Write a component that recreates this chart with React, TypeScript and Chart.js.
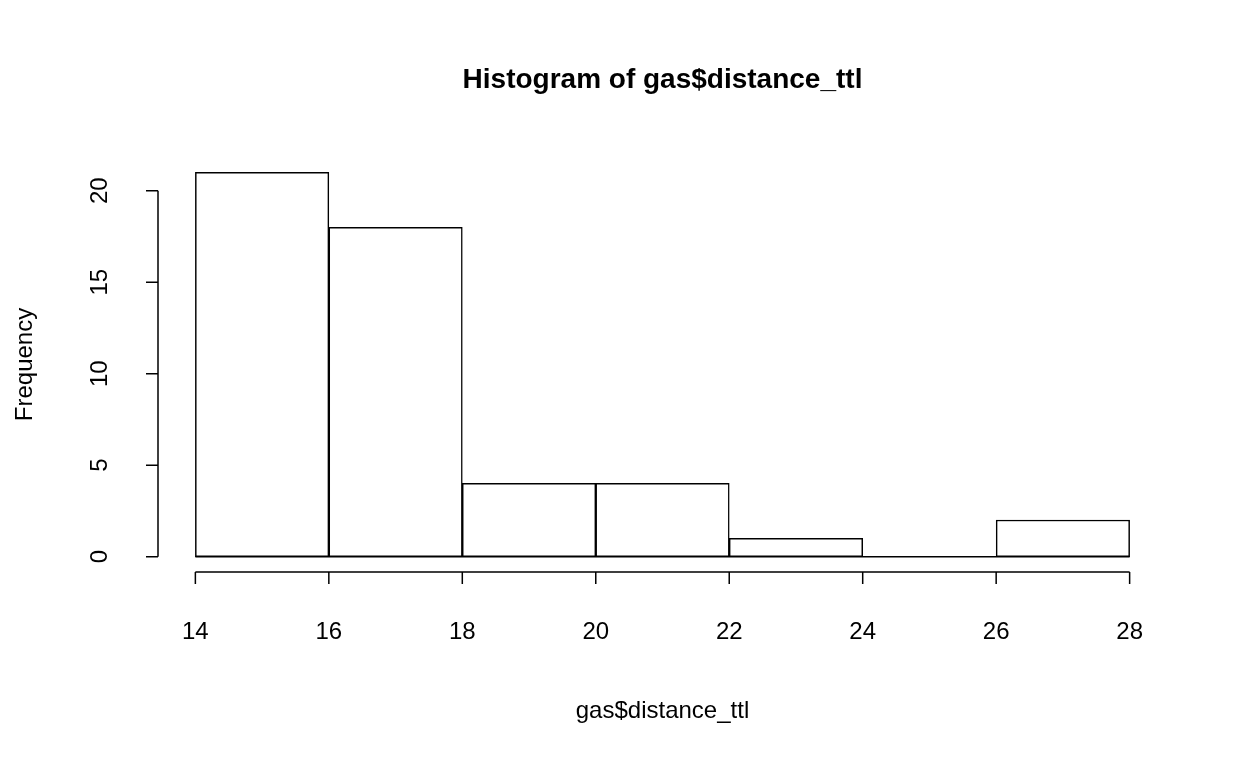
import { useEffect, useRef } from "react";
import { Chart, registerables } from "chart.js";

Chart.register(...registerables);

const binEdges = [14, 16, 18, 20, 22, 24, 26, 28];
const counts = [21, 18, 4, 4, 1, 0, 2];
const xTicks = [14, 16, 18, 20, 22, 24, 26, 28];
const yTicks = [0, 5, 10, 15, 20];

const FONT = "'Liberation Sans', Arial, Helvetica, sans-serif";

// R-style axes, titles and base line drawn from the chart's scales
const rAxes = {
  id: "rAxes",
  afterDraw(chart: any) {
    const { ctx, chartArea } = chart;
    const xs = chart.scales.x;
    const ys = chart.scales.y;
    ctx.save();
    ctx.strokeStyle = "#000";
    ctx.fillStyle = "#000";
    ctx.lineWidth = 1.5;

    // base line under all bins
    const y0 = ys.getPixelForValue(0);
    ctx.beginPath();
    ctx.moveTo(xs.getPixelForValue(binEdges[0]), y0);
    ctx.lineTo(xs.getPixelForValue(binEdges[binEdges.length - 1]), y0);
    ctx.stroke();

    // x axis
    const ax = chartArea.bottom;
    ctx.beginPath();
    ctx.moveTo(xs.getPixelForValue(xTicks[0]), ax);
    ctx.lineTo(xs.getPixelForValue(xTicks[xTicks.length - 1]), ax);
    xTicks.forEach((t) => {
      const p = xs.getPixelForValue(t);
      ctx.moveTo(p, ax);
      ctx.lineTo(p, ax + 12);
    });
    ctx.stroke();
    ctx.font = `24px ${FONT}`;
    ctx.textAlign = "center";
    ctx.textBaseline = "middle";
    xTicks.forEach((t) => ctx.fillText(String(t), xs.getPixelForValue(t), ax + 60));

    // y axis
    const ay = chartArea.left;
    ctx.beginPath();
    ctx.moveTo(ay, ys.getPixelForValue(yTicks[0]));
    ctx.lineTo(ay, ys.getPixelForValue(yTicks[yTicks.length - 1]));
    yTicks.forEach((t) => {
      const p = ys.getPixelForValue(t);
      ctx.moveTo(ay, p);
      ctx.lineTo(ay - 12, p);
    });
    ctx.stroke();
    yTicks.forEach((t) => {
      ctx.save();
      ctx.translate(ay - 58, ys.getPixelForValue(t));
      ctx.rotate(-Math.PI / 2);
      ctx.fillText(String(t), 0, 0);
      ctx.restore();
    });

    // axis titles
    const cx = (chartArea.left + chartArea.right) / 2;
    const cy = (chartArea.top + chartArea.bottom) / 2;
    ctx.fillText("gas$distance_ttl", cx, 711);
    ctx.save();
    ctx.translate(25, cy);
    ctx.rotate(-Math.PI / 2);
    ctx.fillText("Frequency", 0, 0);
    ctx.restore();

    ctx.font = `bold 28px ${FONT}`;
    ctx.fillText("Histogram of gas$distance_ttl", cx, 80);
    ctx.restore();
  },
};

export default function App() {
  const canvasRef = useRef<HTMLCanvasElement>(null);

  useEffect(() => {
    document.body.style.margin = "0";
    if (!canvasRef.current) return;
    const data = counts.map((c, i) => ({ x: (binEdges[i] + binEdges[i + 1]) / 2, y: c }));
    const chart = new Chart(canvasRef.current, {
      type: "bar",
      data: {
        datasets: [
          {
            data: data as any,
            backgroundColor: "#fff",
            borderColor: "#000",
            borderWidth: 1.5,
            borderSkipped: false,
            barPercentage: 1,
            categoryPercentage: 1,
          },
        ],
      },
      options: {
        animation: false,
        responsive: false,
        maintainAspectRatio: false,
        layout: { padding: { left: 158, right: 81, top: 157, bottom: 196 } },
        plugins: { legend: { display: false }, tooltip: { enabled: false }, title: { display: false } },
        scales: {
          x: { type: "linear", min: 13.44, max: 28.56, offset: false, display: false },
          y: { type: "linear", min: -0.84, max: 21.84, display: false },
        },
      },
      plugins: [rAxes],
    });
    return () => chart.destroy();
  }, []);

  return (
    <div style={{ width: 1248, height: 768, background: "#fff" }}>
      <canvas ref={canvasRef} width={1248} height={768} style={{ width: 1248, height: 768 }} />
    </div>
  );
}
